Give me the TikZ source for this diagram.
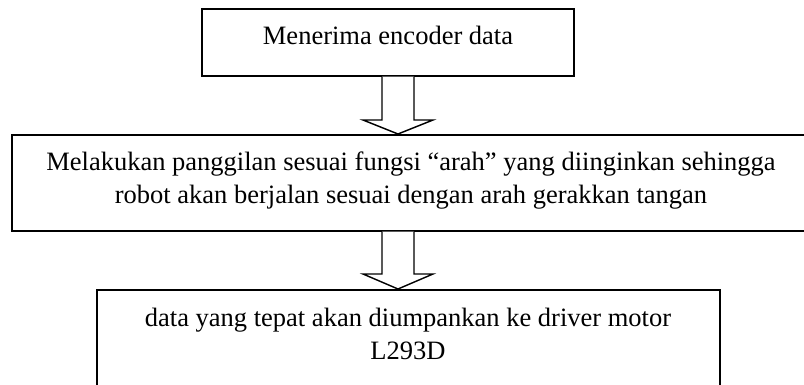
\documentclass[tikz,border=0pt]{standalone}
\usepackage{fontspec}
\setmainfont{Liberation Serif}
\begin{document}
\begin{tikzpicture}[x=1pt,y=-1pt,
  boxnode/.style={draw=black,line width=1.6pt,rectangle,inner sep=0pt,anchor=north west},
  txt/.style={anchor=base,inner sep=0pt,font=\fontsize{26.5}{32}\selectfont},
  blockarrow/.style={draw=black,line width=1.4pt,line join=miter,fill=white}]
\useasboundingbox (0,0) rectangle (804,385);
% boxes
\node[boxnode,minimum width=372pt,minimum height=67pt] (b1) at (201,8) {};
\node[boxnode,minimum width=802pt,minimum height=96pt] (b2) at (11,134) {};
\node[boxnode,minimum width=623pt,minimum height=130pt] (b3) at (96,289) {};
% texts
\node[txt] (t1) at (388,45) {Menerima encoder data};
\node[txt] (t2a) at (411,171) {Melakukan panggilan sesuai fungsi “arah” yang diinginkan sehingga};
\node[txt] (t2b) at (411,204) {robot akan berjalan sesuai dengan arah gerakkan tangan};
\node[txt] (t3a) at (408,326) {data yang tepat akan diumpankan ke driver motor};
\node[txt] (t3b) at (408,359) {L293D};
% block arrows
\coordinate (ax) at (398,0);
\path (b1.south -| ax) coordinate (a1s) (b2.north -| ax) coordinate (a1t);
\path (b2.south -| ax) coordinate (a2s) (b3.north -| ax) coordinate (a2t);
\draw[blockarrow] ([xshift=-16pt]a1s) -- ([xshift=-16pt,yshift=14pt]a1t) -- ([xshift=-35pt,yshift=14pt]a1t) -- (a1t) -- ([xshift=35pt,yshift=14pt]a1t) -- ([xshift=16pt,yshift=14pt]a1t) -- ([xshift=16pt]a1s);
\draw[blockarrow] ([xshift=-16pt]a2s) -- ([xshift=-16pt,yshift=15pt]a2t) -- ([xshift=-35pt,yshift=15pt]a2t) -- (a2t) -- ([xshift=35pt,yshift=15pt]a2t) -- ([xshift=16pt,yshift=15pt]a2t) -- ([xshift=16pt]a2s);
\end{tikzpicture}
\end{document}
